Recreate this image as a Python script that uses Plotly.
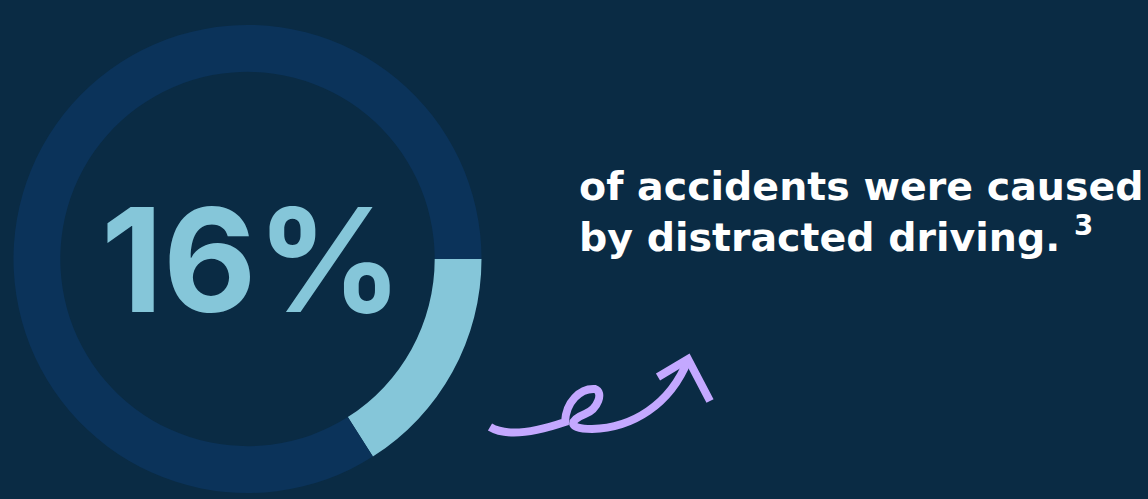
import plotly.graph_objects as go

# Data
labels = ["Distracted driving", "Other causes"]
values = [16, 84]
headline = "16%"
caption_lines = ["of accidents were caused", "by distracted driving. <sup>3</sup>"]

BG = "#0a2b44"
RING = "#0b335a"
LIGHT = "#85c6d9"
PURPLE = "#c4a8ff"

W, H = 1148, 499

fig = go.Figure()
fig.add_trace(go.Pie(
    labels=labels, values=values, hole=0.80, sort=False,
    direction="clockwise", rotation=90,
    marker=dict(colors=[LIGHT, RING], line=dict(width=0)),
    textinfo="none", hoverinfo="skip", showlegend=False,
    domain=dict(x=[13 / W, 482 / W], y=[6 / H, 474 / H]),
))

fig.add_annotation(
    x=252 / W, y=1 - 259 / H, xref="paper", yref="paper",
    text=f"<b>{headline}</b>", showarrow=False,
    font=dict(family="Inter", size=144, color=LIGHT),
    xanchor="center", yanchor="middle",
)

fig.add_annotation(
    x=577 / W, y=1 - 211 / H, xref="paper", yref="paper",
    text="<b>" + "<br>".join(caption_lines) + "</b>", showarrow=False,
    font=dict(family="DejaVu Sans", size=39.5, color="white"),
    xanchor="left", yanchor="middle", align="left",
)

# decorative hand-drawn arrow (pixel coordinates on hidden axes)
squiggle = ("M 490 427 C 505 436, 530 434, 565 422 "
            "C 566 402, 580 388, 595 389 C 604 392, 598 409, 585 414 "
            "C 570 420, 566 429, 592 429 C 632 428, 670 405, 688 360")
head = "M 658 377 L 688 359 L 710 401"
for p in (squiggle, head):
    fig.add_shape(type="path", path=p, xref="x", yref="y",
                  line=dict(color=PURPLE, width=8), layer="above")

fig.update_xaxes(range=[0, W], visible=False, fixedrange=True)
fig.update_yaxes(range=[H, 0], visible=False, fixedrange=True)
fig.update_layout(
    width=W, height=H, margin=dict(l=0, r=0, t=0, b=0),
    paper_bgcolor=BG, plot_bgcolor=BG, showlegend=False,
)
fig.write_html(
    "out.html",
    config={"displayModeBar": False, "staticPlot": True},
    post_script="document.body.style.margin='0';document.body.style.background='%s';" % BG,
)
